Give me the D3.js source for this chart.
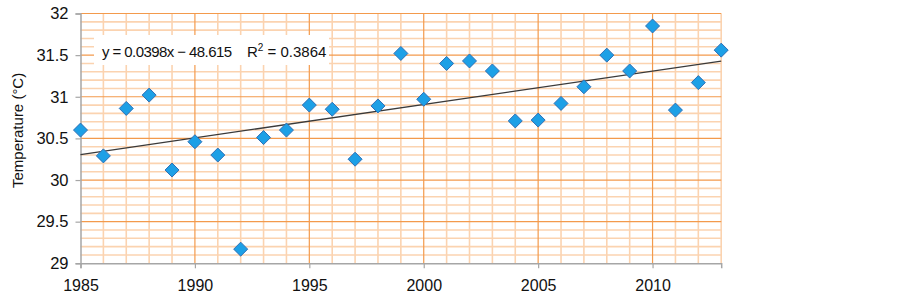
<!DOCTYPE html>
<html>
<head>
<meta charset="utf-8">
<script src="https://cdn.jsdelivr.net/npm/d3@7"></script>
<style>
html,body{margin:0;padding:0;background:#fff;}
svg{display:block;font-family:"Liberation Sans",Arial,sans-serif;}
</style>
</head>
<body>
<svg id="chart" width="903" height="295"></svg>
<script>
const years = [1985,1986,1987,1988,1989,1990,1991,1992,1993,1994,1995,1996,1997,1998,1999,2000,2001,2002,2003,2004,2005,2006,2007,2008,2009,2010,2011,2012,2013];
const temps = [30.60,30.29,30.86,31.02,30.12,30.46,30.30,29.17,30.51,30.60,30.90,30.85,30.25,30.89,31.52,30.97,31.40,31.43,31.31,30.71,30.72,30.92,31.12,31.50,31.31,31.85,30.84,31.17,31.56];
const xTicks = [1985,1990,1995,2000,2005,2010];
const yTicks = [29,29.5,30,30.5,31,31.5,32];
const equationText = "y = 0.0398x \u2212 48.615";
const r2Label = "R";
const r2Value = " =  0.3864";
const yTitle = "Temperature (\u00B0C)";

const svg = d3.select("#chart");
const m = {left:80.5, right:721.2, top:13.5, bottom:263.3};
const x = d3.scaleLinear().domain([1985,2013]).range([m.left, m.right]);
const y = d3.scaleLinear().domain([29,32]).range([m.bottom, m.top]);

const grid = svg.append("g");
const minorX = d3.range(1985, 2014, 1);
const minorY = d3.range(290, 321, 1).map(v => v/10);
grid.selectAll(".mx").data(minorX.filter(v => v % 5 !== 0)).join("line")
  .attr("x1", d => x(d)).attr("x2", d => x(d)).attr("y1", m.top).attr("y2", m.bottom)
  .attr("stroke", "#FBD3B0").attr("stroke-width", 1.6);
grid.selectAll(".my").data(minorY.filter(v => Math.round(v*10) % 5 !== 0)).join("line")
  .attr("x1", m.left).attr("x2", m.right).attr("y1", d => y(d)).attr("y2", d => y(d))
  .attr("stroke", "#FBD3B0").attr("stroke-width", 1.6);
grid.selectAll(".Mx").data(xTicks.filter(v => v !== 1985)).join("line")
  .attr("x1", d => x(d)).attr("x2", d => x(d)).attr("y1", m.top).attr("y2", m.bottom)
  .attr("stroke", "#F39A4C").attr("stroke-width", 1.2);
grid.selectAll(".My").data(yTicks.filter(v => v !== 29)).join("line")
  .attr("x1", m.left).attr("x2", m.right).attr("y1", d => y(d)).attr("y2", d => y(d))
  .attr("stroke", "#F39A4C").attr("stroke-width", 1.2);

const xAxis = d3.axisBottom(x).tickValues(xTicks).tickFormat(d3.format("d")).tickSize(5).tickPadding(11);
const gx = svg.append("g").attr("transform", `translate(0,${m.bottom})`).call(xAxis);
gx.select(".domain").attr("stroke", "#A6A6A6").attr("stroke-width", 1.5);
gx.selectAll(".tick line").attr("stroke", "#A6A6A6").attr("stroke-width", 1.2);
gx.selectAll("text").attr("font-size", 16).attr("fill", "#111").attr("font-family", "Liberation Sans, Arial, sans-serif");

const yAxis = d3.axisLeft(y).tickValues(yTicks).tickFormat(d => d).tickSize(5).tickPadding(7);
const gy = svg.append("g").attr("transform", `translate(${m.left},0)`).call(yAxis);
gy.select(".domain").attr("stroke", "#A6A6A6").attr("stroke-width", 1.5);
gy.selectAll(".tick line").attr("stroke", "#A6A6A6").attr("stroke-width", 1.2);
gy.selectAll("text").attr("font-size", 16.5).attr("fill", "#111").attr("font-family", "Liberation Sans, Arial, sans-serif");

svg.append("text").attr("transform", `translate(23,${(m.top+m.bottom)/2 - 8}) rotate(-90)`)
  .attr("text-anchor", "middle").attr("font-size", 15).attr("fill", "#111").text(yTitle);

const mx = d3.mean(years), my = d3.mean(temps);
let sxy = 0, sxx = 0;
years.forEach((v,i) => { sxy += (v-mx)*(temps[i]-my); sxx += (v-mx)*(v-mx); });
const slope = sxy/sxx, icpt = my - slope*mx;
svg.append("line")
  .attr("x1", x(1985)).attr("y1", y(icpt + slope*1985))
  .attr("x2", x(2013)).attr("y2", y(icpt + slope*2013))
  .attr("stroke", "#3a3a3a").attr("stroke-width", 1.3);

const s = 7;
svg.append("g").selectAll("path").data(years).join("path")
  .attr("d", (d,i) => {
    const cx = x(d), cy = y(temps[i]);
    return `M${cx},${cy-s}L${cx+s},${cy}L${cx},${cy+s}L${cx-s},${cy}Z`;
  })
  .attr("fill", "#1DA0E6").attr("stroke", "#2F6FB5").attr("stroke-width", 1);

svg.append("rect").attr("x", 94).attr("y", 35).attr("width", 235).attr("height", 30).attr("fill", "#fff");
svg.append("text").attr("x", 102).attr("y", 56.5).attr("font-size", 15).attr("fill", "#111")
  .attr("textLength", 130).attr("lengthAdjust", "spacing").text(equationText);
const r2 = svg.append("text").attr("x", 247).attr("y", 56.5).attr("font-size", 15).attr("fill", "#111");
r2.append("tspan").text(r2Label);
r2.append("tspan").attr("dy", -6).attr("font-size", 10).text("2");
r2.append("tspan").attr("dy", 6).text(r2Value);
</script>
</body>
</html>
